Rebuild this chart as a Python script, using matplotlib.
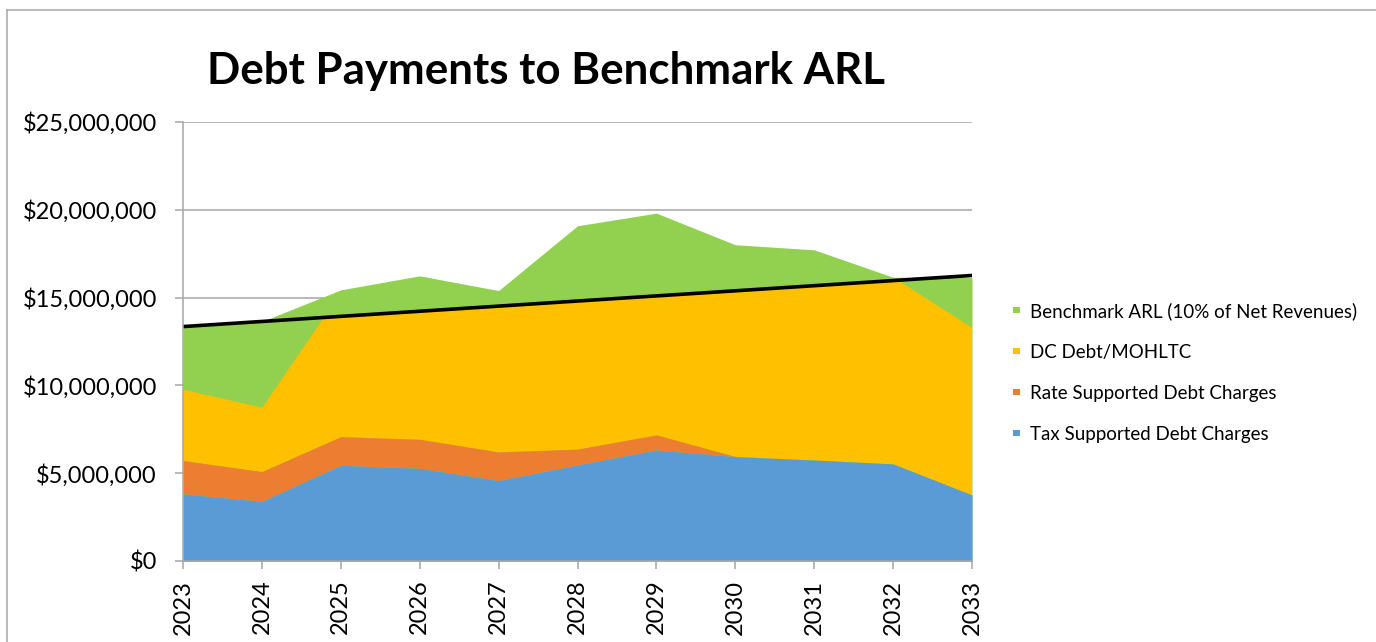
import numpy as np
import matplotlib
matplotlib.use("Agg")
import matplotlib.pyplot as plt
from matplotlib.patches import Polygon, Rectangle
from matplotlib.lines import Line2D
from matplotlib.ticker import FuncFormatter

plt.rcParams['font.family'] = ['Lato', 'DejaVu Sans']

# datos (en dolares)
years = [2023, 2024, 2025, 2026, 2027, 2028, 2029, 2030, 2031, 2032, 2033]
tax_debt = [3820000, 3400000, 5450000, 5280000, 4580000, 5470000, 6320000, 5950000, 5750000, 5530000, 3760000]
rate_debt = [1900000, 1690000, 1630000, 1650000, 1630000, 900000, 860000, 0, 0, 0, 0]
dc_debt = [4060000, 3670000, 8270000, 9270000, 9090000, 12630000, 12520000, 11950000, 11850000, 10640000, 9540000]
arl_total = [13350000, 13640000, 15440000, 16240000, 15400000, 19090000, 19810000, 18010000, 17720000, 16160000, 16140000]
limit_years = [2023, 2033]
limit_values = [13350000, 16260000]

labels = ["Benchmark ARL (10% of Net Revenues)", "DC Debt/MOHLTC",
          "Rate Supported Debt Charges", "Tax Supported Debt Charges"]
colors = ["#92D050", "#FFC000", "#ED7D31", "#5B9BD5"]

W, H = 1376, 642
fig = plt.figure(figsize=(W / 100, H / 100), dpi=100)
ax = fig.add_axes([183 / W, 1 - 561 / H, (972 - 183) / W, (561 - 122) / H])

x = np.array(years)
t = np.array(tax_debt)
r = t + np.array(rate_debt)
d = r + np.array(dc_debt)

# area verde detras, luego las capas apiladas
ax.fill_between(x, 0, arl_total, color=colors[0], lw=0, zorder=1)
yellow = ax.fill_between(x, r, d, color=colors[1], lw=0, zorder=2)
ax.fill_between(x, t, r, color=colors[2], lw=0, zorder=3)
ax.fill_between(x, 0, t, color=colors[3], lw=0, zorder=4)

# la capa amarilla queda por debajo de la linea del benchmark
clip = Polygon([(limit_years[0], 0), (limit_years[0], limit_values[0]),
                (limit_years[1], limit_values[1]), (limit_years[1], 0)],
               closed=True, transform=ax.transData)
yellow.set_clip_path(clip)

ax.plot(limit_years, limit_values, color="black", lw=2.6, zorder=6, clip_on=False,
        solid_capstyle="butt")

ax.set_xlim(2023, 2033)
ax.set_ylim(0, 25000000)
ax.set_yticks(np.arange(0, 25000001, 5000000))
ax.set_xticks(years)
ax.yaxis.set_major_formatter(FuncFormatter(lambda v, p: "${:,.0f}".format(v)))
ax.grid(axis="y", color="#A6A6A6", lw=1.1, zorder=0)
ax.set_axisbelow(True)

for s in ["top", "right"]:
    ax.spines[s].set_visible(False)
for s in ["left", "bottom"]:
    ax.spines[s].set_color("#A6A6A6")
    ax.spines[s].set_linewidth(1.1)
    ax.spines[s].set_zorder(7)

ax.tick_params(axis="y", length=5.8, width=1.1, color="#A6A6A6", pad=13, labelsize=17)
ax.tick_params(axis="x", length=5.5, width=1.1, color="#A6A6A6", pad=8, labelsize=17,
               labelrotation=90)

fig.text(546 / W, 1 - 84 / H, "Debt Payments to Benchmark ARL", fontsize=31.6,
         fontweight="bold", ha="center", va="baseline")

# leyenda
for i, (lab, c) in enumerate(zip(labels, colors)):
    yc = 310 + 41 * i
    fig.add_artist(Rectangle((1013.3 / W, 1 - (yc + 3.4) / H), 6.8 / W, 6.8 / H,
                             transform=fig.transFigure, color=c, lw=0))
    fig.text(1030 / W, 1 - (yc + 6.8) / H, lab, fontsize=13.5, ha="left", va="baseline")

# borde del area del grafico
fig.add_artist(Line2D([6.5 / W, 6.5 / W], [0, 1 - 10 / H], transform=fig.transFigure,
                      color="#A6A6A6", lw=1.1))
fig.add_artist(Line2D([6.5 / W, 1], [1 - 10 / H, 1 - 10 / H], transform=fig.transFigure,
                      color="#A6A6A6", lw=1.1))

fig.savefig("out.png", dpi=100)
